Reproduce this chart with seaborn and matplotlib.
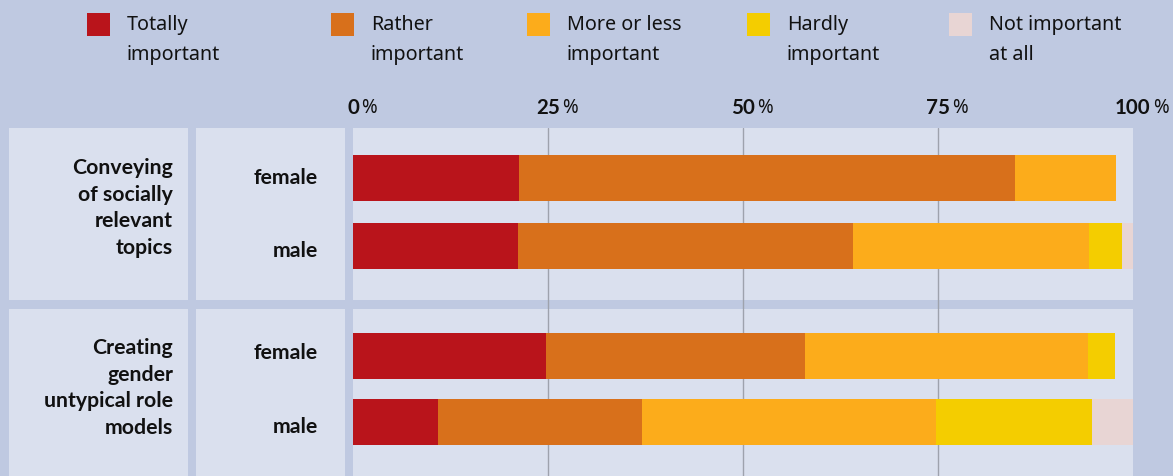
import matplotlib
matplotlib.use("Agg")
import matplotlib.pyplot as plt
import matplotlib.transforms as mtransforms
from matplotlib.patches import Rectangle
import numpy as np
import pandas as pd
import seaborn as sns

# ---------------- data ----------------
categories = ["Totally\nimportant", "Rather\nimportant", "More or less\nimportant",
              "Hardly\nimportant", "Not important\nat all"]
colors = ["#B9141B", "#D8701B", "#FCAC1B", "#F4CD00", "#E8D5D4"]
topics = ["Conveying\nof socially\nrelevant\ntopics", "Creating\ngender\nuntypical role\nmodels"]
genders = ["female", "male"]
conveying_female = [21.3, 63.6, 12.9, 0.0, 0.0]
conveying_male = [21.1, 43.0, 30.3, 4.2, 1.4]
creating_female = [24.8, 33.2, 36.2, 3.5, 0.0]
creating_male = [10.9, 26.1, 37.7, 20.0, 5.3]
ticks = [0, 25, 50, 75, 100]

groups = [[conveying_female, conveying_male], [creating_female, creating_male]]

# ---------------- style ----------------
sns.set_style("white")
plt.rcParams["font.family"] = ["Noto Sans", "DejaVu Sans"]
BOLD = ["Lato", "DejaVu Sans"]

BG = "#BFC9E1"
PANEL = "#DAE0EE"
GRID = "#9EA2AD"
TXT = "#111111"
FS = 14.2
FSB = 15.3
FST = 14.8
W, H = 1173, 477
fig = plt.figure(figsize=(W / 100, H / 100), dpi=100, facecolor=BG)


def fx(x):
    return x / W


def fy(y):
    return 1 - y / H


def add_rect(x0, y0, x1, y1, color):
    fig.patches.append(Rectangle((fx(x0), fy(y1)), fx(x1) - fx(x0), fy(y0) - fy(y1),
                                 transform=fig.transFigure, facecolor=color,
                                 edgecolor="none", zorder=0))


# left column panels
for (y0, y1) in [(129, 301), (310, 480)]:
    add_rect(9, y0, 188, y1, PANEL)
    add_rect(196, y0, 345, y1, PANEL)

# ---------------- plot panels ----------------
layouts = [
    dict(top=129, bottom=310, sep=301, centers=(179, 247)),
    dict(top=310, bottom=477, sep=None, centers=(357, 423)),
]
bar_px = 46
x_left, x_right = 353, 1133

for g, (lay, vals) in enumerate(zip(layouts, groups)):
    ax = fig.add_axes([fx(x_left), fy(lay["bottom"]), fx(x_right) - fx(x_left),
                       fy(lay["top"]) - fy(lay["bottom"])])
    ax.set_facecolor(PANEL)
    c0, c1 = lay["centers"]
    unit = c1 - c0

    rows = []
    for gi, gender in enumerate(genders):
        cum = np.cumsum(vals[gi])
        for k, cat in enumerate(categories):
            rows.append(dict(gender=gender, category=cat, value=vals[gi][k], cum=cum[k]))
    df = pd.DataFrame(rows)

    for k in range(len(categories) - 1, -1, -1):
        sub = df[df["category"] == categories[k]]
        sns.barplot(data=sub, x="cum", y="gender", order=genders, color=colors[k],
                    saturation=1, width=bar_px / unit, orient="h", ax=ax,
                    linewidth=0, zorder=3)

    ax.set_xlim(0, 100)
    ax.set_ylim((lay["bottom"] - c0) / unit, (lay["top"] - c0) / unit)
    if lay["sep"] is not None:
        ax.axhspan((lay["sep"] - c0) / unit, (lay["bottom"] - c0) / unit,
                   color=BG, zorder=0.5, linewidth=0)
    for t in ticks[1:-1]:
        ax.axvline(t, color=GRID, lw=1.0, zorder=1)
    ax.set_xticks([])
    ax.set_yticks([])
    ax.set_xlabel("")
    ax.set_ylabel("")
    for s in ax.spines.values():
        s.set_visible(False)

    if g == 0:
        trans = mtransforms.blended_transform_factory(ax.transData, fig.transFigure)
        for t in ticks:
            txt = ax.text(t, fy(108), f"{t}", transform=trans, ha="center", va="center",
                          fontsize=FST, fontweight="bold", family=BOLD, color=TXT,
                          clip_on=False)
            ax.annotate("%", xy=(1, 0), xycoords=txt, xytext=(1.8, 0),
                        textcoords="offset points", ha="left", va="bottom",
                        fontsize=FS - 0.5, color=TXT, annotation_clip=False)

# topic labels
for topic, yc in zip(topics, [208, 388]):
    fig.text(fx(173), fy(yc), topic, ha="right", va="center", fontsize=FSB,
             fontweight="bold", family=BOLD, linespacing=1.42, color=TXT)

# gender labels
for yc, gender in zip([178, 251, 353, 427], genders * 2):
    fig.text(fx(318), fy(yc), gender, ha="right", va="center", fontsize=FSB,
             fontweight="bold", family=BOLD, color=TXT)

# legend
sq_x = [87, 331, 527, 747, 949]
for x, cat, col in zip(sq_x, categories, colors):
    add_rect(x, 14, x + 23, 37, col)
    fig.text(fx(x + 40), fy(40), cat, ha="left", va="center", fontsize=FS,
             linespacing=1.65, color=TXT)

fig.savefig("out.png", dpi=100, facecolor=BG)
